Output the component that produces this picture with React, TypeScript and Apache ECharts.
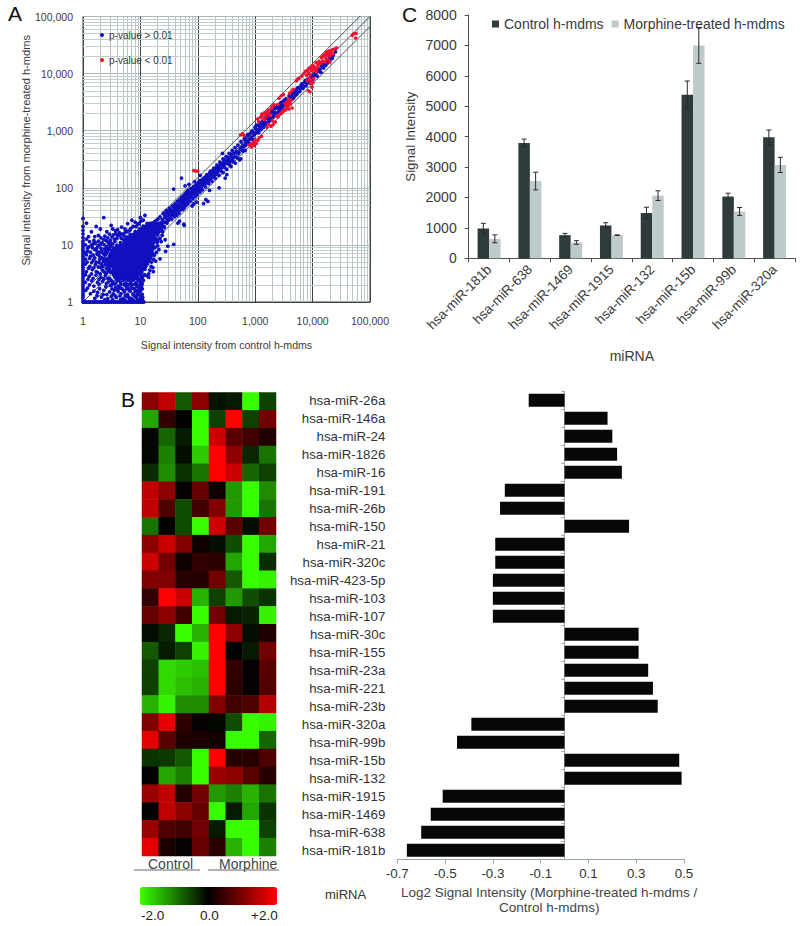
import React, { useEffect, useRef } from "react";
import * as echarts from "echarts";

const FONT = "'Liberation Sans', Arial, sans-serif";

// ---------- Panel A ----------
const logTicksMinor = [2,3,4,5,6,7,8,9,20,30,40,50,60,70,80,90,200,300,400,500,600,700,800,900,2000,3000,4000,5000,6000,7000,8000,9000,20000,30000,40000,50000,60000,70000,80000,90000];
const foldLineEnds = [1, 100000];
const foldFactor = 1.5;

// the saturated core of the cloud, one list of control intensities per morphine intensity
const cloudCoreRows: [number, number[]][] = [
  [2.7, [3.6,4,4.45,4.96,5.5,6.15,6.85,7.6,8.5,9]],
  [3, [3.4,3.8,4.2,4.7,5.2,5.8,6.5,7.2,8,9,10]],
  [3.35, [3,3.2,3.6,4,4.45,4.96,5.5,6.15,6.85,7.6,8.5,9.5,10.6]],
  [3.75, [2.9,3.4,3.8,4.2,4.7,5.2,5.8,6.5,7.2,8,9,10,11.2,12]],
  [4.2, [2.8,3.2,3.6,4,4.45,4.96,5.5,6.15,6.85,7.6,8.5,9.5,10.6,11.8,12.4]],
  [4.65, [2.75,3.05,3.4,3.8,4.2,4.7,5.2,5.8,6.5,7.2,8,9,10,11.2,12.4,13.3]],
  [5.2, [2.6,2.9,3.2,3.6,4,4.45,4.96,5.5,6.15,6.85,7.6,8.5,9.5,10.6,11.8,13.1,14.2]],
  [5.8, [2.75,3.05,3.4,3.8,4.2,4.7,5.2,5.8,6.5,7.2,8,9,10,11.2,12.4,13.8,14.9]],
  [6.45, [2.9,3.2,3.6,4,4.45,4.96,5.5,6.15,6.85,7.6,8.5,9.5,10.6,11.8,13.1,14.6,15.6]],
  [7.2, [3.05,3.4,3.8,4.2,4.7,5.2,5.8,6.5,7.2,8,9,10,11.2,12.4,13.8,15.4,16.2]],
  [8, [3.2,3.6,4,4.45,4.96,5.5,6.15,6.85,7.6,8.5,9.5,10.6,11.8,13.1,14.6,15.9]],
  [8.9, [3.4,3.8,4.2,4.7,5.2,5.8,6.5,7.2,8,9,10,11.2,12.4,13.8,15.4,17]],
  [9.9, [3.9,4.45,4.96,5.5,6.15,6.85,7.6,8.5,9.5,10.6,11.8,13.1,14.6,16.3]],
  [11, [4.5,5.2,5.8,6.5,7.2,8,9,10,11.2,12.4,13.8,15.4,17.2]],
  [12.3, [5.1,5.5,6.15,6.85,7.6,8.5,9.5,10.6,11.8,13.1,14.6,16.3,18]],
  [13.7, [5.8,6.5,7.2,8,9,10,11.2,12.4,13.8,15.4,17.2]],
  [15.2, [6.6,7.6,8.5,9.5,10.6,11.8,13.1,14.6,16.3,18.5]],
  [17, [8.1,9,10,11.2,12.4,13.8,15.4,17.2,19.2]],
  [19, [9.6,10.6,11.8,13.1,14.6,16.3,18.1,20]],
  [21.3, [11.2,12.4,13.8,15.4,17.2,19.2,21.3]],
  [23.8, [13.1,14.6,16.3,18.1,20.2,22.5]],
];

// the loose scatter around the core
const cloudLoose: [number, number][] = [
  [1,1],[1.08,1],[1.17,1],[1.26,1],[1.36,1],[1.47,1],[1.58,1],[1.71,1],[1.85,1],[2,1],[2.16,1],[2.33,1],[2.52,1],[2.72,1],[2.94,1],[3.17,1],[3.43,1],[3.7,1],[4,1],[4.32,1],[4.67,1],[5.04,1],[5.44,1],[5.88,1],[6.35,1],[6.86,1],[7.41,1],[8,1],[8.64,1],[9.33,1],[10,1],[10.8,1],[11.5,1],
  [1,1.09],[1,1.19],[1,1.3],[1,1.42],[1,1.55],[1,1.69],[1,1.84],[1,2],[1,2.2],[1,2.4],[1,2.62],[1,2.86],[1,3.12],[1,3.4],[1,3.7],[1,4.05],[1,4.4],[1,4.8],[1,5.25],[1,5.7],[1,6.25],[1,6.8],[1,7.4],[1,8.1],[1,8.8],[1,9.6],[1,10.5],[1,11.6],[1,13.4],[1,15.6],[1,18],[1,21],[1,29],
  [2.3,30],[1.4,17],[1.15,12.6],[1.6,14],[2.05,13.3],[2.5,12],[2.9,15.4],[3.3,19],[3.7,17.6],[4.3,16.4],[4.7,20.4],[5.4,19],[6,23.6],[6.5,18],[7.1,27],[8.1,25],[9,23],[10,30],[11.2,27],[12,33],
  [1.25,9.2],[1.5,10.4],[1.85,9.8],[2.15,11],[2.6,9.3],[3.05,10.7],[3.55,12.6],[3.2,13.8],[4,14.6],[4.6,13.2],[1.2,7.8],[1.6,8.3],[1.95,7.4],[2.35,8.4],[2.7,7.9],[1.35,6.3],[1.75,6.9],[2.1,6],[2.45,6.6],[1.18,5],[1.52,5.4],[1.9,4.9],[2.25,5.2],[1.32,4.2],[1.65,4.5],[2.05,4],[2.45,4.5],[1.15,3.4],[1.45,3.7],[1.8,3.3],[2.2,3.6],[2.6,3.2],[1.28,2.8],[1.68,2.95],[2.05,2.7],[2.45,2.9],[2.9,2.6],
  [1.1,2.2],[1.42,2.35],[1.78,2.2],[2.2,2.3],[2.75,2.25],[3.1,2.4],[3.5,2.1],[3.95,2.35],[4.5,2.2],[5,2.42],[5.6,2.15],[6.2,2.4],[6.8,2.2],[7.6,2.42],[8.4,2.15],[9.3,2.35],[10.2,2.2],
  [1.2,1.75],[1.55,1.9],[1.95,1.72],[2.5,1.85],[3,1.95],[3.7,1.8],[4.2,1.9],[4.8,1.7],[5.5,1.92],[6.1,1.75],[6.9,1.9],[7.7,1.72],[8.6,1.88],[9.6,1.75],[10.5,1.9],
  [1.35,1.4],[1.8,1.48],[2.25,1.35],[2.9,1.5],[3.35,1.38],[4.1,1.52],[4.6,1.4],[5.3,1.5],[6,1.35],[6.6,1.55],[7.4,1.38],[8.1,1.5],[9.1,1.42],[10,1.55],[10.8,1.36],
  [1.6,1.16],[2.1,1.22],[2.7,1.14],[3.8,1.2],[5,1.16],[5.8,1.24],[7,1.14],[8.4,1.2],[9.6,1.12],[10.4,1.22],
  [14,3.1],[14.6,3.6],[12.8,2.9],[15.4,4.2],[16.5,4],[15.6,5],[17,5.6],[18.4,5.2],[17.5,6.6],[19,7.4],[16.8,3.4],[24,14.7],[27,12.3],[23,11.4],[30,9.5],[38,10.2],[27.5,7.7],[21,8.3],[22,5.7],[13.9,2.7],[20,9.6],[22,13],[24.5,17],[26,20],[20,12],
];

const cloudLooseFill: [number, number][] = [
  [1.12,1.6],[1.3,2],[1.55,1.55],[1.75,1.3],[1.9,2.05],[2.3,1.6],[2.6,1.35],[2.55,2.1],[1.22,2.5],[1.5,2.6],[1.9,2.5],[2.3,2.55],[2.7,2.6],[1.1,3],[1.4,3.1],[1.7,3.4],[2,3.1],[2.4,3.3],[2.75,3.6],[1.25,3.9],[1.55,4],[1.85,4.1],[2.2,4.2],[2.55,3.9],[1.1,4.6],[1.42,4.9],[1.7,5],[2.1,4.6],[2.4,5],[1.1,5.6],[1.3,5.8],[1.6,5.9],[1.95,5.6],[2.3,5.8],[2.55,5.6],[1.15,6.7],[1.5,6.6],[1.9,6.5],[2.25,7],[2.6,7.2],[1.1,7.3],[1.35,7.4],[1.75,7.8],[2.1,7.7],[2.45,7.6],[2.9,8.5],[1.2,8.7],[1.45,9],[1.75,8.9],[2.05,8.8],[2.55,8.7],[3,9.4],[1.1,10],[1.4,9.9],[1.65,10.8],[2,10.2],[2.35,10],[2.85,10.2],[3.3,10.4],[1.3,11.4],[1.55,12],[1.85,11.6],[2.3,12.4],[2.7,11.2],[3,12],[3.6,11.5],[1.25,14],[1.85,14.6],[2.4,14.2],[2.7,13.3],[3.4,15],[3.9,13],[4.4,14.9],[4.9,15.6],[5.5,16.6],[5.2,14.4],[6,17.2],[6.8,19.5],[7.5,21],[8.4,21],[9.4,23.6],[10.2,26],[3.7,15.8],[4,18.5],[2.6,17],[2,19],[3.1,22],[1.7,21],[1.15,24],
  [3.3,2.25],[3.8,2.55],[4.3,2.5],[4.8,2.6],[5.3,2.5],[5.8,2.55],[6.4,2.6],[7,2.5],[7.8,2.6],[8.7,2.55],[9.6,2.5],[10.5,2.55],[11,2.8],[3.2,1.7],[3.5,1.6],[4,1.65],[4.4,1.75],[5.1,1.6],[5.8,1.7],[6.5,1.62],[7.2,1.75],[8.1,1.65],[8.9,1.6],[9.9,1.65],[10.8,1.7],[3.1,1.25],[3.6,1.3],[4.4,1.28],[5.5,1.3],[6.3,1.22],[7.8,1.28],[8.8,1.32],[10,1.3],[11,1.2],[2.4,1.1],[3.3,1.1],[4.5,1.1],[5.4,1.08],[6.5,1.1],[7.6,1.08],[9,1.1],[10.8,1.1],[3.2,2],[3.7,2.1],[4.6,2],[5.2,2.05],[6,2],[6.5,2.02],[7.2,2],[8,2.05],[8.8,1.98],[9.8,2],[10.8,2.1],[11.3,2.4],[10.6,2.65],[11.8,3],
  [13,9],[14.5,16],[16,10],[18,9],[19.5,11],[18.5,13],[20,15],[21,17],[22,19],[19,21],[17.5,22],[16,24],[18,26],[20,28],[22,24],[24,22],[26,25],[24,28],[27,31],[30,28],[28,25],[31,34],[29,37],[26,34],[33,40],[35,34],[37,38],
];

const midBand: [number, number][] = [
  [20,28],[21,17],[22,31],[23,19],[24,25],[25,36],[26,21],[27,30],[28,40],[29,24],[30,33],[31,27],[32,44],[33,30],[34,37],[35,28],[36,48],[37,33],[38,41],[39,31],[40,52],[41,36],[42,45],[43,33],[44,58],[45,40],[46,50],[47,36],[48,62],[49,44],[50,55],[51,41],[52,68],[53,48],[54,60],[55,42],[56,72],[57,52],[58,64],[59,46],[60,78],[61,55],[62,70],[63,50],[64,84],[65,60],[66,75],[67,53],[68,90],[70,64],[72,82],[74,58],[76,98],[78,70],[80,88],[82,64],[84,105],[86,78],[88,96],[90,70],[92,112],[94,85],[96,104],[98,76],[100,120],[103,92],[106,112],[109,84],[112,135],[115,100],[118,124],[121,92],[124,145],[128,112],[132,136],[136,104],[140,160],[145,124],[150,150],[155,118],[160,178],[165,140],[170,165],[176,130],[182,200],[188,155],[195,185],[202,146],[210,225],[218,172],[226,205],[235,165],[245,250],[255,195],[265,230],[275,185],[285,290],[296,225],[308,265],[320,210],[335,335],[350,255],[365,300],[380,235],[395,385],[412,290],[430,345],[450,270],[470,440],[490,335],[510,395],[535,310],[580,510],[610,440],[640,530],[670,450],
  [34,42],[39,46],[44,42],[49,60],[53,57],[58,55],[62,60],[66,64],[71,72],[75,80],[79,78],[83,90],[88,84],[93,98],[97,92],[102,105],[108,102],[113,118],[120,112],[126,130],[135,128],[142,146],[152,140],[163,160],[174,182],[186,175],[198,205],[212,195],[228,240],[240,222],[258,265],[272,250],[290,305],[305,280],[330,345],[345,310],[372,390],[392,345],
  [38,95],[48,26],[57,23],[58,22],[85,52],[80,48],[95,56],[138,62],[150,58],[126,53],[88,128],[110,165],[45,24],[52,148],[60,108],[70,115],[160,90],[320,170],[560,320],[300,148],[235,100],[270,400],
  [30,39],[32,36],[36,35],[40,40],[42,50],[46,44],[50,48],[52,56],[56,54],[60,66],[64,56],[68,72],[72,68],[76,78],[80,96],[84,82],[90,100],[96,90],[100,105],[105,130],[110,92],[116,128],[122,115],[130,150],[134,118],[144,170],[150,130],[158,148],[166,195],[172,150],[180,170],[190,220],[196,165],[205,195],[215,250],[222,190],[232,220],[242,280],[250,210],[262,245],[275,320],[280,240],[295,270],[310,350],[318,275],[335,300],[350,400],[362,280],[378,345],[398,450],[405,320],[425,400],[445,505],[455,350],[478,410],[500,560],[520,420],[545,480],[565,640],[590,460],[620,530],[660,740],[690,560],[720,640],[750,860],[780,610],[830,720],[870,980],[910,700],[960,880],[1000,1150],
];

const upperBlue: [number, number][] = [
  [620,560],[650,700],[690,620],[730,810],[770,690],[810,880],[860,760],[900,980],[950,830],[1000,1100],[1060,920],[1120,1240],[1170,1020],
  [1230,1350],[1290,1120],[1360,1500],[1420,1260],[1490,1680],[1560,1380],[1650,1820],[1720,1500],[1800,2000],[1900,1650],[2000,2200],
  [2100,1830],[2200,2450],[2320,2030],[2450,2680],[2600,2250],[2750,2950],[2900,2480],[3050,3250],[3250,2750],[3450,3600],[3650,3050],
  [3900,4050],[4150,3400],[4400,4550],[4700,3850],[5000,5100],[5300,4350],[5600,5700],[6000,4900],[6300,6300],[6800,5500],[7200,7100],
  [7700,6100],[8200,7900],[8800,6900],[9300,8800],[10000,7800],[11000,9800],[12000,9000],[13000,11000],[14000,10500],[15500,12500],
  [17000,14000],[18500,15500],[20000,17000],[21500,19000],[23000,21000],[25000,24000],[1100,1020],[1350,1280],[1700,1620],[2150,2050],
  [2700,2600],[3300,3200],[4200,3950],[5200,5000],[6500,5900],[7900,7300],[16000,15000],[19000,18000],
  [1050,1250],[1150,920],[1200,1150],[1260,1050],[1320,1420],[1400,1150],[1460,1420],[1530,1280],[1600,1700],[1680,1400],[1760,1700],[1850,1500],[1950,2250],[2040,1700],[2120,2100],[2240,1900],[2350,2600],[2480,2100],[2550,2500],[2680,2300],[2800,3100],[2950,2600],[3100,2800],[3300,3500],[3500,2900],[3700,3400],[3850,3100],[4000,3700],[4300,4300],[4500,3600],[4800,4600],[5000,4200],[5400,5500],[5700,4800],[6200,5500],[6500,6600],[7000,6000],[7500,7600],[8000,6800],[8500,8000],[9000,7500],[9600,9000],[10500,9200],[11500,10500],[12500,11500],[13500,12000],[14500,13500],[16000,14000],[17500,16000],[19000,16500],[21000,20000],[22000,18500],
];

const redPoints: [number, number][] = [
  [85,200],[92,198],[100,195],[560,850],[600,880],[640,830],[800,560],[860,520],[920,590],[980,650],[1050,600],[1120,680],[1180,760],
  [1240,1700],[1320,1800],[1420,1580],[1500,1950],[1620,2150],[1720,2000],[1880,2400],[2050,2700],[1880,1200],[2050,1280],[2250,1420],
  [2600,3700],[2850,4100],[2500,2900],[2900,2050],[3150,2250],[3400,2300],[3600,2500],[3850,2400],[3300,3000],[3500,3100],[3700,3250],
  [3900,3300],[4100,2900],[3450,2800],[3700,2700],[4000,3050],[4200,3400],[3600,2950],[4400,2500],[3800,3600],[4600,5300],[5200,7500],
  [5800,8300],[7900,9300],[8500,10200],[9000,9600],[9500,11200],[10000,12300],[8800,8200],[9200,6800],[9800,5800],[8400,5000],[9400,7500],
  [10500,8300],[10200,13800],[11600,10800],[12200,15300],[13000,16400],[12500,14000],[11000,13000],[14200,19000],[15500,21000],[16800,22500],
  [17800,24000],[19000,23000],[20000,20500],[21000,24500],[17000,18500],[18600,21000],[22800,22000],[26000,28000],[20000,16000],[15000,16500],
  [52000,50000],[57000,50500],[49000,47000],[56000,42000],
  [1100,1600],[1150,1450],[1300,1950],[1450,2050],[1550,1750],[1700,2300],[1800,1850],[1950,2600],[2150,2850],[1700,1300],[1600,1150],[2000,1500],[2350,1800],[2500,1750],[2700,1950],[3000,2150],[3250,2350],[3950,4500],[4300,4900],[3100,4300],[5500,8000],[6500,9000],[7000,10000],[7500,11000],[8200,11500],[8800,12500],[9300,13000],[10800,11500],[11500,15500],[8000,7500],[10200,7000],[9000,4800],[12000,12500],[13800,15000],[14800,19500],[16200,21000],[17300,21500],[18000,23500],[19500,25000],[20500,22000],[22000,26000],[24000,27000],[16500,16000],[18500,17500],[1300,800],[1000,700],[870,600],[950,560],
];

const cloudCore: [number, number][] = cloudCoreRows.flatMap(([y, xs]) => xs.map((x) => [x, y] as [number, number]));
const bluePoints: [number, number][] = [...cloudLoose, ...cloudLooseFill, ...cloudCore, ...midBand, ...upperBlue];

// ---------- Panel C ----------
const barCategories = ["hsa-miR-181b","hsa-miR-638","hsa-miR-1469","hsa-miR-1915","hsa-miR-132","hsa-miR-15b","hsa-miR-99b","hsa-miR-320a"];
const controlValues = [980,3790,760,1080,1490,5380,2030,3980];
const morphineValues = [640,2540,520,760,2060,7000,1540,3070];
const controlErrors = [170,130,60,90,190,450,110,240];
const morphineErrors = [130,290,60,10,160,590,130,250];

// ---------- Panel B ----------
const mirnas = ["hsa-miR-26a","hsa-miR-146a","hsa-miR-24","hsa-miR-1826","hsa-miR-16","hsa-miR-191","hsa-miR-26b","hsa-miR-150","hsa-miR-21","hsa-miR-320c","hsa-miR-423-5p","hsa-miR-103","hsa-miR-107","hsa-miR-30c","hsa-miR-155","hsa-miR-23a","hsa-miR-221","hsa-miR-23b","hsa-miR-320a","hsa-miR-99b","hsa-miR-15b","hsa-miR-132","hsa-miR-1915","hsa-miR-1469","hsa-miR-638","hsa-miR-181b"];
const log2Ratios = [-0.15,0.18,0.2,0.22,0.24,-0.25,-0.27,0.27,-0.29,-0.29,-0.3,-0.3,-0.3,0.31,0.31,0.35,0.37,0.39,-0.39,-0.45,0.48,0.49,-0.51,-0.56,-0.6,-0.66];
const ratioTicks = [-0.7,-0.5,-0.3,-0.1,0.1,0.3,0.5];
const sampleColumns = ["C1","C2","C3","C4","M1","M2","M3","M4"];
const heatRows: number[][] = [
  [1.1,1.5,-0.7,1.1,-0.15,-0.2,-2,-0.5],
  [-1.3,0.4,0,-2,-0.5,2,-0.5,0.9],
  [-0.05,-0.8,-0.2,-2,1.6,0.7,0.5,0.25],
  [-0.05,-1,-0.1,-1.6,2,1.1,-0.3,-0.9],
  [-0.35,-1.1,-0.4,-0.9,2,1.6,-0.8,-0.5],
  [1.5,1.1,0.05,0.8,0.1,-1.2,-2,-1.1],
  [1.5,0.6,-0.6,0.5,1,-1.2,-2,-0.9],
  [-0.9,0.02,-0.6,-2,1.6,0.7,-0.1,0.9],
  [1.1,1.6,1,0.1,-0.1,-0.6,-2,-1.3],
  [1.6,0.9,0.1,0.4,0.35,-1.3,-2,-0.35],
  [1,1,0.3,0.3,0.9,-0.7,-2,-1.9],
  [0.4,2,1.6,-1.4,-0.5,-1.2,-0.6,-0.4],
  [0.8,1.1,0.5,-2,0.9,-0.2,-0.25,-1.9],
  [-0.1,-0.3,-2,-1.4,2,1.1,-0.1,0.25],
  [-0.7,-0.2,-0.5,-1.9,2,0,-0.2,0.9],
  [-0.5,-1.7,-1.6,-1.5,2,0.4,0.05,0.7],
  [-0.5,-1.7,-1.5,-1.4,2,0.35,0.05,0.65],
  [-1.4,-1.9,-1.1,-1.1,1,0.5,0.6,1.4],
  [1,1.8,0.35,0.05,-0.05,-0.6,-2,-1.9],
  [1.8,0.7,0.25,0.2,0.15,-2,-2,-0.8],
  [-0.4,-0.45,-0.7,-2,2,0.3,0.3,0.6],
  [0,-1.3,-1,-2,1.2,1.1,0.7,0.3],
  [1.2,1.5,0.3,0.9,-1.2,-1,-1.4,-0.9],
  [0,1.5,1.1,0.8,-2,-0.2,-1.3,-0.4],
  [1.2,0.6,0.5,0.9,-0.2,-2,-2,-0.5],
  [1.8,0.2,0.05,0.8,0.35,-1.4,-2,-1],
];
const heatData = heatRows.flatMap((row, r) => row.map((v, c) => [c, r, v]));

const BAR_W = 11.5;
const errorRender = (side: number) => (_p: any, api: any) => {
  const low = api.coord([api.value(0), api.value(1)]);
  const high = api.coord([api.value(0), api.value(2)]);
  const x = low[0] + (side * BAR_W) / 2;
  const style = { stroke: "#262c2c", lineWidth: 1, fill: "none" };
  return {
    type: "group",
    children: [
      { type: "line", shape: { x1: x, y1: low[1], x2: x, y2: high[1] }, style },
      { type: "line", shape: { x1: x - 2.5, y1: low[1], x2: x + 2.5, y2: low[1] }, style },
      { type: "line", shape: { x1: x - 2.5, y1: high[1], x2: x + 2.5, y2: high[1] }, style },
    ],
  };
};

const thousands = (v: number) => Math.round(v).toLocaleString("en-US");
const TXT = "#3a3a3a";

export default function App() {
  const ref = useRef<HTMLDivElement>(null);
  useEffect(() => {
    const chart = echarts.init(ref.current!, undefined, { renderer: "svg" });
    const hidden = { show: false };
    const option: any = {
      animation: false,
      backgroundColor: "#fff",
      textStyle: { fontFamily: FONT },
      grid: [
        { left: 83, top: 16.5, width: 287, height: 285.5, show: true, borderColor: "#3c4446", borderWidth: 1, backgroundColor: "transparent" },
        { left: 468.7, top: 15, width: 326.3, height: 243.3 },
        { left: 142, top: 392.5, width: 134, height: 463.5 },
        { left: 397.3, top: 391.3, width: 286.7, height: 468 },
      ],
      xAxis: [
        {
          gridIndex: 0, type: "log", logBase: 10, min: 1, max: 100000,
          axisLine: { show: true, lineStyle: { color: "#3c4446" } }, axisTick: hidden,
          axisLabel: { formatter: thousands, fontSize: 10.5, color: TXT, margin: 13, showMaxLabel: true, showMinLabel: true, hideOverlap: false },
          splitLine: { show: true, lineStyle: { color: "#3c4446", width: 1 } },
          name: "Signal intensity from control h-mdms", nameLocation: "middle", nameGap: 37,
          nameTextStyle: { fontSize: 10.6, color: TXT, fontFamily: FONT },
        },
        {
          gridIndex: 1, type: "category", data: barCategories,
          axisLine: { lineStyle: { color: "#4a4f4f" } }, axisTick: { show: true, length: 4, lineStyle: { color: "#4a4f4f" } },
          axisLabel: { rotate: 45, interval: 0, fontSize: 13.5, color: TXT, margin: 9 },
          name: "miRNA", nameLocation: "middle", nameGap: 91,
          nameTextStyle: { fontSize: 14, color: TXT, fontFamily: FONT },
        },
        { gridIndex: 2, type: "category", data: sampleColumns, show: false, splitArea: hidden },
        {
          gridIndex: 3, type: "value", min: -0.7, max: 0.5,
          axisLine: { show: true, lineStyle: { color: "#9aa8a8" } },
          axisTick: { show: true, length: 4, customValues: ratioTicks, lineStyle: { color: "#9aa8a8" } },
          axisLabel: { fontSize: 13.3, color: "#333", margin: 8, customValues: ratioTicks, formatter: (v: number) => v.toFixed(1) },
          splitLine: hidden,
          name: "Log2 Signal Intensity (Morphine-treated h-mdms /\nControl h-mdms)", nameLocation: "middle", nameGap: 23,
          nameTextStyle: { fontSize: 13.5, color: "#444", lineHeight: 15, padding: [0, 0, 0, 17], fontFamily: FONT },
        },
      ],
      yAxis: [
        {
          gridIndex: 0, type: "log", logBase: 10, min: 1, max: 100000,
          axisLine: hidden, axisTick: hidden,
          axisLabel: { formatter: thousands, fontSize: 10.5, color: TXT, margin: 10, showMaxLabel: true, showMinLabel: true, hideOverlap: false },
          splitLine: { show: true, lineStyle: { color: "#aab9b9", width: 1 } },
          name: "Signal intensity from morphine-treated h-mdms", nameLocation: "middle", nameGap: 50,
          nameTextStyle: { fontSize: 11.1, color: TXT, padding: [0, 0, 0, 18], fontFamily: FONT },
        },
        {
          gridIndex: 1, type: "value", min: 0, max: 8000, interval: 1000,
          axisLine: { show: true, lineStyle: { color: "#4a4f4f" } }, axisTick: { show: true, length: 4, lineStyle: { color: "#4a4f4f" } },
          axisLabel: { fontSize: 14, color: TXT, margin: 12, formatter: (v: number) => String(v) }, splitLine: hidden,
          name: "Signal Intensity", nameLocation: "middle", nameGap: 52,
          nameTextStyle: { fontSize: 13.3, color: TXT, fontFamily: FONT },
        },
        { gridIndex: 2, type: "category", data: mirnas, inverse: true, show: false },
        {
          gridIndex: 3, type: "category", data: mirnas, inverse: true, position: "left",
          axisLine: { show: false, onZero: false }, axisTick: hidden,
          axisLabel: { interval: 0, fontSize: 13.3, color: "#333", margin: 12 },
        },
        {
          gridIndex: 3, type: "category", data: mirnas, inverse: true, position: "left",
          axisLine: { show: true, onZero: true, lineStyle: { color: "#9aa8a8" } },
          axisTick: { show: true, length: 3, lineStyle: { color: "#9aa8a8" } },
          axisLabel: hidden,
        },
      ],
      visualMap: {
        type: "continuous", seriesIndex: 6, min: -2, max: 2, orient: "horizontal",
        left: 125, top: 872, itemWidth: 18, itemHeight: 137, calculable: false, showLabel: false, text: null,
        inRange: { color: ["#38ff00", "#000000", "#ff0000"] },
      },
      legend: [
        {
          left: 95, top: 25, orient: "vertical", itemGap: 15, itemWidth: 4, itemHeight: 4, icon: "circle",
          data: ["p-value > 0.01", "p-value < 0.01"],
          textStyle: { fontSize: 10, color: "#3a3a3a", fontFamily: FONT },
        },
        {
          left: 487, top: 12, itemGap: 8, itemWidth: 7, itemHeight: 7, icon: "rect",
          data: ["Control h-mdms", "Morphine-treated h-mdms"],
          textStyle: { fontSize: 14, color: TXT, fontFamily: FONT },
        },
      ],
      series: [
        {
          type: "line", xAxisIndex: 0, yAxisIndex: 0, name: "grid", silent: true, data: [], z: 1,
          markLine: {
            silent: true, symbol: "none", label: hidden, animation: false, z: 1,
            lineStyle: { color: "#b7c5c5", width: 1, type: "solid" },
            data: logTicksMinor.flatMap((v) => [{ xAxis: v }, { yAxis: v, lineStyle: { color: "#c2cfcf", width: 1, type: "solid" } }]),
          },
        },
        {
          type: "line", xAxisIndex: 0, yAxisIndex: 0, name: "equal", silent: true, showSymbol: false, z: 2,
          lineStyle: { color: "#4a5252", width: 1 }, data: foldLineEnds.map((v) => [v, v]),
        },
        {
          type: "line", xAxisIndex: 0, yAxisIndex: 0, name: "upper fold", silent: true, showSymbol: false, z: 2,
          lineStyle: { color: "#4a5252", width: 1 }, data: foldLineEnds.map((v) => [v, v * foldFactor]),
        },
        {
          type: "line", xAxisIndex: 0, yAxisIndex: 0, name: "lower fold", silent: true, showSymbol: false, z: 2,
          lineStyle: { color: "#4a5252", width: 1 }, data: foldLineEnds.map((v) => [v * foldFactor, v]),
        },
        {
          type: "scatter", xAxisIndex: 0, yAxisIndex: 0, name: "p-value > 0.01", symbolSize: 3.8, z: 3,
          itemStyle: { color: "#1010c0", opacity: 1 }, data: bluePoints,
        },
        {
          type: "scatter", xAxisIndex: 0, yAxisIndex: 0, name: "p-value < 0.01", symbolSize: 3.6, z: 4,
          itemStyle: { color: "#f01030", opacity: 1 }, data: redPoints,
        },
        {
          type: "heatmap", xAxisIndex: 2, yAxisIndex: 2, data: heatData, silent: true, progressive: 0,
          itemStyle: { borderWidth: 0 },
        },
        {
          type: "bar", xAxisIndex: 1, yAxisIndex: 1, name: "Control h-mdms", data: controlValues,
          barWidth: BAR_W, barGap: "0%", itemStyle: { color: "#2f3a3a" },
        },
        {
          type: "bar", xAxisIndex: 1, yAxisIndex: 1, name: "Morphine-treated h-mdms", data: morphineValues,
          barWidth: BAR_W, barGap: "0%", itemStyle: { color: "#bfcbca" },
        },
        {
          type: "custom", xAxisIndex: 1, yAxisIndex: 1, name: "control error", silent: true, z: 5,
          renderItem: errorRender(-1), encode: { x: 0, y: [1, 2] },
          data: controlValues.map((v, i) => [i, v - controlErrors[i], v + controlErrors[i]]),
        },
        {
          type: "custom", xAxisIndex: 1, yAxisIndex: 1, name: "morphine error", silent: true, z: 5,
          renderItem: errorRender(1), encode: { x: 0, y: [1, 2] },
          data: morphineValues.map((v, i) => [i, v - morphineErrors[i], v + morphineErrors[i]]),
        },
        {
          type: "bar", xAxisIndex: 3, yAxisIndex: 3, name: "Log2 ratio", data: log2Ratios,
          barWidth: 13, itemStyle: { color: "#070707" }, z: 3,
        },
      ],
      graphic: [
        { type: "text", left: 8, top: 3, style: { text: "A", fontSize: 21, fill: "#111", fontFamily: FONT } },
        { type: "text", left: 402, top: 4, style: { text: "C", fontSize: 21, fill: "#111", fontFamily: FONT } },
        { type: "text", left: 121, top: 389, style: { text: "B", fontSize: 21, fill: "#111", fontFamily: FONT } },
        { type: "text", left: 148, top: 857, style: { text: "Control", fontSize: 14, fill: "#444", fontFamily: FONT } },
        { type: "text", left: 219, top: 857, style: { text: "Morphine", fontSize: 14, fill: "#444", fontFamily: FONT } },
        { type: "line", shape: { x1: 134, y1: 870, x2: 200, y2: 870 }, style: { stroke: "#666", lineWidth: 1 } },
        { type: "line", shape: { x1: 208, y1: 870, x2: 279, y2: 870 }, style: { stroke: "#666", lineWidth: 1 } },
        { type: "text", left: 141, top: 908, style: { text: "-2.0", fontSize: 13.5, fill: "#222", fontFamily: FONT } },
        { type: "text", left: 200, top: 908, style: { text: "0.0", fontSize: 13.5, fill: "#222", fontFamily: FONT } },
        { type: "text", left: 251, top: 908, style: { text: "+2.0", fontSize: 13.5, fill: "#222", fontFamily: FONT } },
        { type: "text", left: 325, top: 888, style: { text: "miRNA", fontSize: 13, fill: "#333", fontFamily: FONT } },
      ],
    };
    chart.setOption(option);
    return () => chart.dispose();
  }, []);
  return <div ref={ref} style={{ position: "absolute", left: 0, top: 0, width: 800, height: 926 }} />;
}
